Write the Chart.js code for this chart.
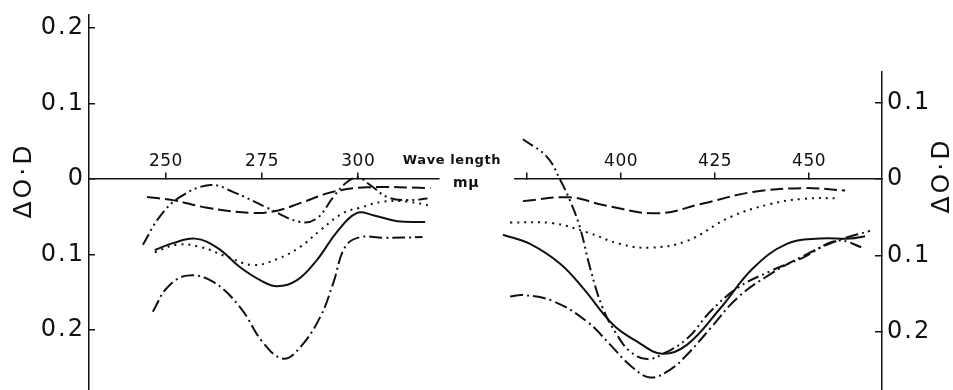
<!DOCTYPE html>
<html>
<head>
<meta charset="utf-8">
<script src="https://cdn.jsdelivr.net/npm/chart.js@4.4.1/dist/chart.umd.min.js"></script>
<style>
  body { margin: 0; background: #fff; }
  #contenedor { position: relative; width: 953px; height: 390px; }
  #contenedor canvas { position: absolute; left: 0; top: 0; }
</style>
</head>
<body>
<div id="contenedor">
  <canvas id="chartIzq" width="953" height="390"></canvas>
  <canvas id="chartDer" width="953" height="390"></canvas>
</div>
<script>
// ==========================================================================
// DATOS (longitud de onda en mµ, ΔO·D)
// ==========================================================================
const ticksXIzq = [250, 275, 300];
const ticksXDer = [375, 400, 425, 450];
const ticksYIzq = [0.2, 0.1, 0, -0.1, -0.2];
const ticksYDer = [0.1, 0, -0.1, -0.2];

// Panel izquierdo (UV)
const discontinuaIzqX = [245.1, 251.8, 260.7, 272.7, 278.9, 284.9, 293.5, 302.3, 318.8];
const discontinuaIzqY = [-0.024, -0.028, -0.038, -0.045, -0.042, -0.032, -0.017, -0.011, -0.012];

const continuaIzqX = [247.1, 251.8, 257.6, 263.3, 269.3, 274.5, 278.9, 284.1, 289.3, 294.5, 299.7, 303.9, 310.2, 317.4];
const continuaIzqY = [-0.094, -0.085, -0.079, -0.091, -0.117, -0.134, -0.142, -0.134, -0.107, -0.070, -0.045, -0.048, -0.056, -0.057];

const punteadaIzqX = [247.1, 252.9, 258.9, 265.9, 272.7, 278.9, 284.9, 290.1, 296.1, 300.5, 306.5, 312.8, 319.3];
const punteadaIzqY = [-0.097, -0.087, -0.090, -0.103, -0.114, -0.106, -0.090, -0.068, -0.045, -0.038, -0.030, -0.030, -0.036];

const rayaPuntoIzqX = [246.6, 250.3, 255.5, 262.2, 269.3, 275.3, 280.5, 284.9, 290.1, 293.5, 296.6, 300.5, 306.5, 316.7];
const rayaPuntoIzqY = [-0.176, -0.144, -0.128, -0.136, -0.170, -0.217, -0.238, -0.223, -0.183, -0.138, -0.090, -0.077, -0.078, -0.077];

const rayaDosPuntosIzqX = [244.0, 248.4, 253.6, 261.5, 267.4, 276.3, 284.9, 289.3, 293.5, 297.1, 300.0, 303.1, 307.6, 312.8, 318.0];
const rayaDosPuntosIzqY = [-0.087, -0.050, -0.024, -0.008, -0.017, -0.038, -0.057, -0.052, -0.024, -0.004, 0.002, -0.008, -0.024, -0.028, -0.026];

// Panel derecho (visible)
const discontinuaDerX = [373.9, 386.4, 395.2, 409.6, 421.8, 435.1, 448.4, 459.6];
const discontinuaDerY = [-0.029, -0.024, -0.034, -0.045, -0.032, -0.017, -0.012, -0.015];

const punteadaDerX = [370.5, 381.9, 391.0, 399.7, 407.7, 417.6, 429.0, 439.6, 448.4, 458.2];
const punteadaDerY = [-0.057, -0.058, -0.070, -0.085, -0.090, -0.081, -0.050, -0.033, -0.026, -0.025];

const continuaDerX = [368.6, 375.8, 383.8, 389.9, 397.9, 404.3, 410.9, 417.6, 426.3, 435.1, 444.1, 452.9, 460.9, 464.9];
const continuaDerY = [-0.073, -0.085, -0.111, -0.143, -0.191, -0.213, -0.229, -0.217, -0.170, -0.117, -0.085, -0.078, -0.078, -0.075];

const rayaPuntoDerX = [370.5, 373.9, 381.9, 391.0, 397.1, 402.4, 407.7, 413.0, 417.6, 423.7, 430.9, 439.6, 448.4, 457.4, 466.2];
const rayaPuntoDerY = [-0.154, -0.152, -0.160, -0.187, -0.217, -0.244, -0.260, -0.250, -0.230, -0.196, -0.156, -0.125, -0.101, -0.081, -0.068];

const rayaDosPuntosDerX = [373.9, 380.3, 383.8, 386.4, 389.1, 391.8, 395.2, 398.9, 402.4, 406.9, 411.2, 417.6, 423.7, 430.9, 439.6, 448.4, 457.4, 464.9];
const rayaDosPuntosDerY = [0.052, 0.029, -0.001, -0.028, -0.064, -0.117, -0.170, -0.204, -0.226, -0.236, -0.229, -0.209, -0.174, -0.143, -0.121, -0.103, -0.081, -0.091];

// ==========================================================================
// ESTILOS DE LÍNEA (como en la figura original, todo en negro)
// ==========================================================================
const NEGRO = '#111';
const trazos = {
    discontinua: [13, 5],
    continua: [],
    punteada: [2, 5],
    rayaPunto: [13, 4, 2, 4],
    rayaDosPuntos: [12, 4, 2, 4, 2, 4]
};

function armarPuntos(xs, ys) {
    return xs.map((x, i) => ({ x: x, y: ys[i] }));
}

function serie(nombre, xs, ys) {
    return {
        label: nombre,
        data: armarPuntos(xs, ys),
        borderColor: NEGRO,
        borderWidth: 2,
        borderDash: trazos[nombre],
        pointRadius: 0,
        tension: 0.4,
        fill: false,
        clip: false
    };
}

// Las etiquetas del eje Y van sin signo (0.2, 0.1, 0, 0.1, 0.2)
function etiquetaY(v) {
    return v === 0 ? '0' : Math.abs(v).toFixed(1);
}

// Plugin para el espaciado de letras y los textos sueltos (ΔO·D, Wave length)
const textosExtra = {
    id: 'textosExtra',
    beforeUpdate(chart) { chart.ctx.letterSpacing = '2px'; },
    beforeDraw(chart) { chart.ctx.letterSpacing = '2px'; },
    afterDatasetsDraw(chart) { chart.ctx.letterSpacing = '0.5px'; },
    afterDraw(chart, args, opts) {
        const ctx = chart.ctx;
        ctx.save();
        ctx.fillStyle = NEGRO;
        if (opts.ejeY) {
            ctx.save();
            ctx.translate(opts.ejeY.x, opts.ejeY.y);
            ctx.rotate(-Math.PI / 2);
            ctx.letterSpacing = '3px';
            ctx.font = '25px "DejaVu Sans"';
            ctx.textAlign = 'center';
            ctx.textBaseline = 'middle';
            ctx.fillText('ΔO·D', 1.5, 0);
            ctx.restore();
        }
        if (opts.titulo) {
            ctx.letterSpacing = '0.6px';
            ctx.font = 'bold 13px "DejaVu Sans"';
            ctx.textAlign = 'center';
            ctx.textBaseline = 'middle';
            ctx.fillText('Wave length', opts.titulo.x, opts.titulo.y);
            ctx.font = 'bold 14px "DejaVu Sans"';
            ctx.fillText('mμ', opts.titulo.x + 14, opts.titulo.y + 22);
        }
        ctx.restore();
    }
};

Chart.defaults.font.family = '"DejaVu Sans", sans-serif';
Chart.defaults.color = NEGRO;

function opcionesPanel(cfg) {
    return {
        responsive: false,
        animation: false,
        layout: { padding: cfg.padding },
        plugins: {
            legend: { display: false },
            tooltip: { enabled: false },
            textosExtra: cfg.textos
        },
        scales: {
            x: {
                type: 'linear',
                min: cfg.xMin,
                max: cfg.xMax,
                position: { y: 0 },
                afterBuildTicks: s => { s.ticks = cfg.ticksX.map(v => ({ value: v })); },
                afterFit: s => { s.paddingLeft = 0; s.paddingRight = 0; s.paddingTop = 0; s.paddingBottom = 0; },
                grid: { drawOnChartArea: false, drawTicks: true, tickLength: -7, color: NEGRO, lineWidth: 1.5 },
                border: { display: true, color: NEGRO, width: 1.5 },
                ticks: {
                    z: 1,
                    padding: -21,
                    autoSkip: false,
                    maxRotation: 0,
                    font: { size: 17 },
                    callback: v => (cfg.sinEtiqueta.includes(v) ? '' : String(v))
                }
            },
            y: {
                type: 'linear',
                min: cfg.yMin,
                max: cfg.yMax,
                position: cfg.ladoY,
                afterBuildTicks: s => { s.ticks = cfg.ticksY.map(v => ({ value: v })); },
                afterFit: s => { s.width = cfg.anchoY; s.paddingTop = 0; s.paddingBottom = 0; s.paddingLeft = 0; s.paddingRight = 0; },
                grid: { drawOnChartArea: false, drawTicks: true, tickLength: cfg.largoTickY, color: NEGRO, lineWidth: 1.5 },
                border: { display: true, color: NEGRO, width: 1.5 },
                ticks: {
                    padding: cfg.paddingY,
                    autoSkip: false,
                    font: { size: 24 },
                    callback: etiquetaY
                }
            }
        }
    };
}

// 1. PANEL IZQUIERDO
new Chart(document.getElementById('chartIzq'), {
    type: 'line',
    data: {
        datasets: [
            serie('discontinua', discontinuaIzqX, discontinuaIzqY),
            serie('continua', continuaIzqX, continuaIzqY),
            serie('punteada', punteadaIzqX, punteadaIzqY),
            serie('rayaPunto', rayaPuntoIzqX, rayaPuntoIzqY),
            serie('rayaDosPuntos', rayaDosPuntosIzqX, rayaDosPuntosIzqY)
        ]
    },
    options: opcionesPanel({
        padding: { left: 0, right: 514, top: 15, bottom: 0 },
        xMin: 230, xMax: 321,
        yMin: -0.2795, yMax: 0.2172,
        ticksX: ticksXIzq, ticksY: ticksYIzq, sinEtiqueta: [],
        ladoY: 'left', anchoY: 89, largoTickY: -6, paddingY: 10,
        textos: { ejeY: { x: 24, y: 182 }, titulo: { x: 452, y: 161 } }
    }),
    plugins: [textosExtra]
});

// 2. PANEL DERECHO
new Chart(document.getElementById('chartDer'), {
    type: 'line',
    data: {
        datasets: [
            serie('discontinua', discontinuaDerX, discontinuaDerY),
            serie('continua', continuaDerX, continuaDerY),
            serie('punteada', punteadaDerX, punteadaDerY),
            serie('rayaPunto', rayaPuntoDerX, rayaPuntoDerY),
            serie('rayaDosPuntos', rayaDosPuntosDerX, rayaDosPuntosDerY)
        ]
    },
    options: opcionesPanel({
        padding: { left: 515, right: 0, top: 72, bottom: 0 },
        xMin: 371.8, xMax: 469.4,
        yMin: -0.2765, yMax: 0.1402,
        ticksX: ticksXDer, ticksY: ticksYDer, sinEtiqueta: [375],
        ladoY: 'right', anchoY: 71, largoTickY: -7, paddingY: 12,
        textos: { ejeY: { x: 942, y: 177 } }
    }),
    plugins: [textosExtra]
});
</script>
</body>
</html>
